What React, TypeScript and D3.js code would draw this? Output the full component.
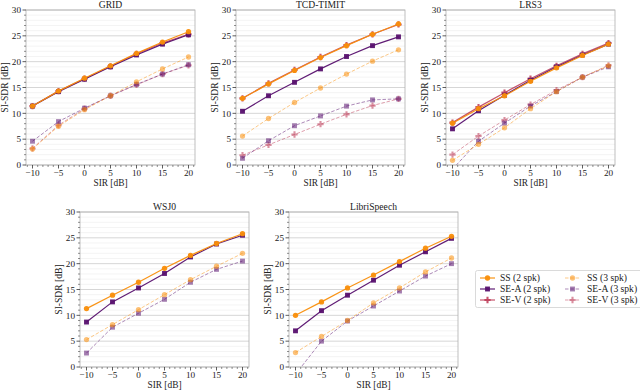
import React from 'react';
import * as d3 from 'd3';

// SIR levels on the x axis
const sir = [-10, -5, 0, 5, 10, 15, 20];
const xTicks = [-10, -5, 0, 5, 10, 15, 20];
const yTicks = [0, 5, 10, 15, 20, 25, 30];

// GRID
const gridSS2 = [11.4, 14.3, 16.8, 19.2, 21.6, 23.8, 25.8];
const gridSEA2 = [11.4, 14.2, 16.6, 19.0, 21.3, 23.4, 25.2];
const gridSEV2 = [11.4, 14.3, 16.7, 19.1, 21.5, 23.6, 25.3];
const gridSS3 = [3.1, 7.5, 10.7, 13.4, 16.1, 18.6, 20.9];
const gridSEA3 = [4.6, 8.4, 11.0, 13.4, 15.6, 17.6, 19.4];
const gridSEV3 = [3.2, 7.7, 10.9, 13.4, 15.5, 17.6, 19.3];

// TCD-TIMIT
const tcdSS2 = [12.9, 15.7, 18.3, 20.8, 23.1, 25.3, 27.3];
const tcdSEA2 = [10.4, 13.4, 16.0, 18.6, 21.0, 23.1, 24.8];
const tcdSEV2 = [12.9, 15.8, 18.4, 20.9, 23.2, 25.3, 27.2];
const tcdSS3 = [5.6, 9.0, 12.1, 14.9, 17.6, 20.1, 22.3];
const tcdSEA3 = [1.3, 4.7, 7.6, 9.5, 11.4, 12.6, 12.8];
const tcdSEV3 = [1.9, 3.9, 5.9, 7.9, 9.8, 11.5, 12.8];

// LRS3
const lrsSS2 = [8.1, 10.9, 13.4, 16.2, 18.8, 21.2, 23.4];
const lrsSEA2 = [7.0, 10.5, 13.5, 16.4, 19.0, 21.3, 23.4];
const lrsSEV2 = [8.2, 11.2, 14.0, 16.7, 19.2, 21.5, 23.6];
const lrsSS3 = [0.9, 4.0, 7.2, 10.9, 14.2, 17.0, 19.2];
const lrsSEA3 = [-0.8, 4.6, 8.1, 11.4, 14.2, 17.0, 19.0];
const lrsSEV3 = [2.0, 5.6, 8.7, 11.7, 14.5, 17.0, 19.3];

// WSJ0 (audio only)
const wsjSS2 = [11.3, 13.9, 16.4, 19.1, 21.6, 23.9, 25.8];
const wsjSEA2 = [8.7, 12.6, 15.3, 18.1, 21.3, 23.8, 25.5];
const wsjSS3 = [5.3, 8.2, 11.1, 14.0, 16.9, 19.5, 22.0];
const wsjSEA3 = [2.7, 7.7, 10.4, 13.1, 16.4, 18.9, 20.5];

// LibriSpeech (audio only)
const libSS2 = [10.0, 12.6, 15.3, 17.8, 20.4, 23.0, 25.3];
const libSEA2 = [7.0, 10.9, 13.9, 16.8, 19.7, 22.3, 24.9];
const libSS3 = [2.8, 5.9, 9.0, 12.4, 15.3, 18.4, 21.1];
const libSEA3 = [-1.4, 5.0, 8.9, 11.8, 14.7, 17.6, 20.0];

const methods = ['SS', 'SE-A', 'SE-V'];
const colors: Record<string, string> = { SS: '#f98e09', 'SE-A': '#57106e', 'SE-V': '#bc3754' };
const symbols: Record<string, any> = { SS: d3.symbolCircle, 'SE-A': d3.symbolSquare, 'SE-V': d3.symbolCross };
const symSize: Record<string, number> = { SS: 22, 'SE-A': 24, 'SE-V': 22 };

const panels = [
  { title: 'GRID', left: 26, top: 10, right: 195, bottom: 165,
    series: { 'SS-2': gridSS2, 'SE-A-2': gridSEA2, 'SE-V-2': gridSEV2, 'SS-3': gridSS3, 'SE-A-3': gridSEA3, 'SE-V-3': gridSEV3 } },
  { title: 'TCD-TIMIT', left: 236, top: 10, right: 405, bottom: 165,
    series: { 'SS-2': tcdSS2, 'SE-A-2': tcdSEA2, 'SE-V-2': tcdSEV2, 'SS-3': tcdSS3, 'SE-A-3': tcdSEA3, 'SE-V-3': tcdSEV3 } },
  { title: 'LRS3', left: 446, top: 10, right: 615, bottom: 165,
    series: { 'SS-2': lrsSS2, 'SE-A-2': lrsSEA2, 'SE-V-2': lrsSEV2, 'SS-3': lrsSS3, 'SE-A-3': lrsSEA3, 'SE-V-3': lrsSEV3 } },
  { title: 'WSJ0', left: 80, top: 212, right: 249, bottom: 367,
    series: { 'SS-2': wsjSS2, 'SE-A-2': wsjSEA2, 'SS-3': wsjSS3, 'SE-A-3': wsjSEA3 } },
  { title: 'LibriSpeech', left: 289, top: 212, right: 458, bottom: 367,
    series: { 'SS-2': libSS2, 'SE-A-2': libSEA2, 'SS-3': libSS3, 'SE-A-3': libSEA3 } },
];

// draw order: 3 spk first, then 2 spk; SS on top
const drawOrder = ['SE-V-3', 'SE-A-3', 'SS-3', 'SE-V-2', 'SE-A-2', 'SS-2'];
const font = '"Liberation Serif", "Times New Roman", serif';

const opacityOf = (m: string, three: boolean) => (three ? 0.55 : m === 'SE-V' ? 0.85 : 0.95);

function Marker({ m, x, y, opacity }: any) {
  const path = d3.symbol().type(symbols[m]).size(symSize[m])() as string;
  return <path d={path} transform={`translate(${x},${y})`} fill={colors[m]} fillOpacity={opacity} />;
}

function Panel({ p, idx }: any) {
  const x = d3.scaleLinear().domain([-11.25, 21.25]).range([p.left, p.right]);
  const y = d3.scaleLinear().domain([0, 30]).range([p.bottom, p.top]);
  const minorY = d3.range(0, 31).filter((v) => v % 5 !== 0);
  const minorX = d3.range(-11, 22).filter((v) => v % 5 !== 0);
  const line = d3.line<number>().x((d, i) => x(sir[i])).y((d) => y(d));
  const clipId = `clip${idx}`;
  return (
    <g>
      <defs>
        <clipPath id={clipId}>
          <rect x={p.left} y={p.top} width={p.right - p.left} height={p.bottom - p.top} />
        </clipPath>
      </defs>
      {minorY.map((v) => (
        <line key={'mg' + v} x1={p.left} x2={p.right} y1={y(v)} y2={y(v)} stroke="#ececec" strokeWidth={0.6} />
      ))}
      {yTicks.map((v) => (
        <line key={'g' + v} x1={p.left} x2={p.right} y1={y(v)} y2={y(v)} stroke="#d6d6d6" strokeWidth={1} />
      ))}
      <g clipPath={`url(#${clipId})`}>
        {drawOrder.filter((k) => p.series[k]).map((k) => {
          const m = k.slice(0, -2);
          const three = k.endsWith('3');
          const op = opacityOf(m, three);
          const vals: number[] = p.series[k];
          return (
            <g key={k}>
              <path d={line(vals) as string} fill="none" stroke={colors[m]} strokeOpacity={op}
                strokeWidth={three ? 0.9 : 1.2} strokeDasharray={three ? '3.5,1.8' : undefined} />
              {vals.map((v, i) => (
                <Marker key={i} m={m} x={x(sir[i])} y={y(v)} opacity={op} />
              ))}
            </g>
          );
        })}
      </g>
      <rect x={p.left} y={p.top} width={p.right - p.left} height={p.bottom - p.top} fill="none" stroke="#b0b0b0" strokeWidth={0.8} />
      {minorY.map((v) => (
        <line key={'my' + v} x1={p.left - 2} x2={p.left} y1={y(v)} y2={y(v)} stroke="#444" strokeWidth={0.6} />
      ))}
      {minorX.map((v) => (
        <line key={'mx' + v} x1={x(v)} x2={x(v)} y1={p.bottom} y2={p.bottom + 2} stroke="#444" strokeWidth={0.6} />
      ))}
      {yTicks.map((v) => (
        <g key={'yt' + v}>
          <line x1={p.left - 3.5} x2={p.left} y1={y(v)} y2={y(v)} stroke="#333" strokeWidth={0.8} />
          <text x={p.left - 5} y={y(v) + 3.2} textAnchor="end" fontSize={9.2} fill="#222">{v}</text>
        </g>
      ))}
      {xTicks.map((v) => (
        <g key={'xt' + v}>
          <line x1={x(v)} x2={x(v)} y1={p.bottom} y2={p.bottom + 3.5} stroke="#333" strokeWidth={0.8} />
          <text x={x(v)} y={p.bottom + 11} textAnchor="middle" fontSize={9.2} fill="#222">
            {v < 0 ? '\u2212' + Math.abs(v) : v}
          </text>
        </g>
      ))}
      <text x={(p.left + p.right) / 2} y={p.bottom + 21} textAnchor="middle" fontSize={9.4} fill="#222">SIR [dB]</text>
      <text transform={`translate(${p.left - 18},${(p.top + p.bottom) / 2}) rotate(-90)`} textAnchor="middle"
        fontSize={9.6} fill="#222">SI-SDR [dB]</text>
      <text x={(p.left + p.right) / 2} y={p.top - 2} textAnchor="middle" fontSize={9.6} fill="#222">{p.title}</text>
    </g>
  );
}

function Legend() {
  const rows = [278, 289, 300];
  const cols = [{ x: 480, tx: 500, spk: 2 }, { x: 565, tx: 587, spk: 3 }];
  return (
    <g>
      <rect x={475.5} y={270.5} width={170} height={37} rx={2} fill="white" stroke="#d0d0d0" strokeWidth={0.8} />
      {cols.map((c) =>
        methods.map((m, i) => {
          const three = c.spk === 3;
          const op = opacityOf(m, three);
          return (
            <g key={m + c.spk}>
              <line x1={c.x} x2={c.x + 15} y1={rows[i]} y2={rows[i]} stroke={colors[m]} strokeOpacity={op}
                strokeWidth={three ? 0.9 : 1.2} strokeDasharray={three ? '3.5,1.8' : undefined} />
              <Marker m={m} x={c.x + 7.5} y={rows[i]} opacity={op} />
              <text x={c.tx} y={rows[i] + 3.3} fontSize={9.6} fill="#222">{`${m} (${c.spk} spk)`}</text>
            </g>
          );
        })
      )}
    </g>
  );
}

export default function App() {
  return (
    <svg width={640} height={390} style={{ position: 'absolute', left: 0, top: 0, fontFamily: font, background: 'white' }}>
      {panels.map((p, i) => (
        <Panel key={p.title} p={p} idx={i} />
      ))}
      <Legend />
    </svg>
  );
}
